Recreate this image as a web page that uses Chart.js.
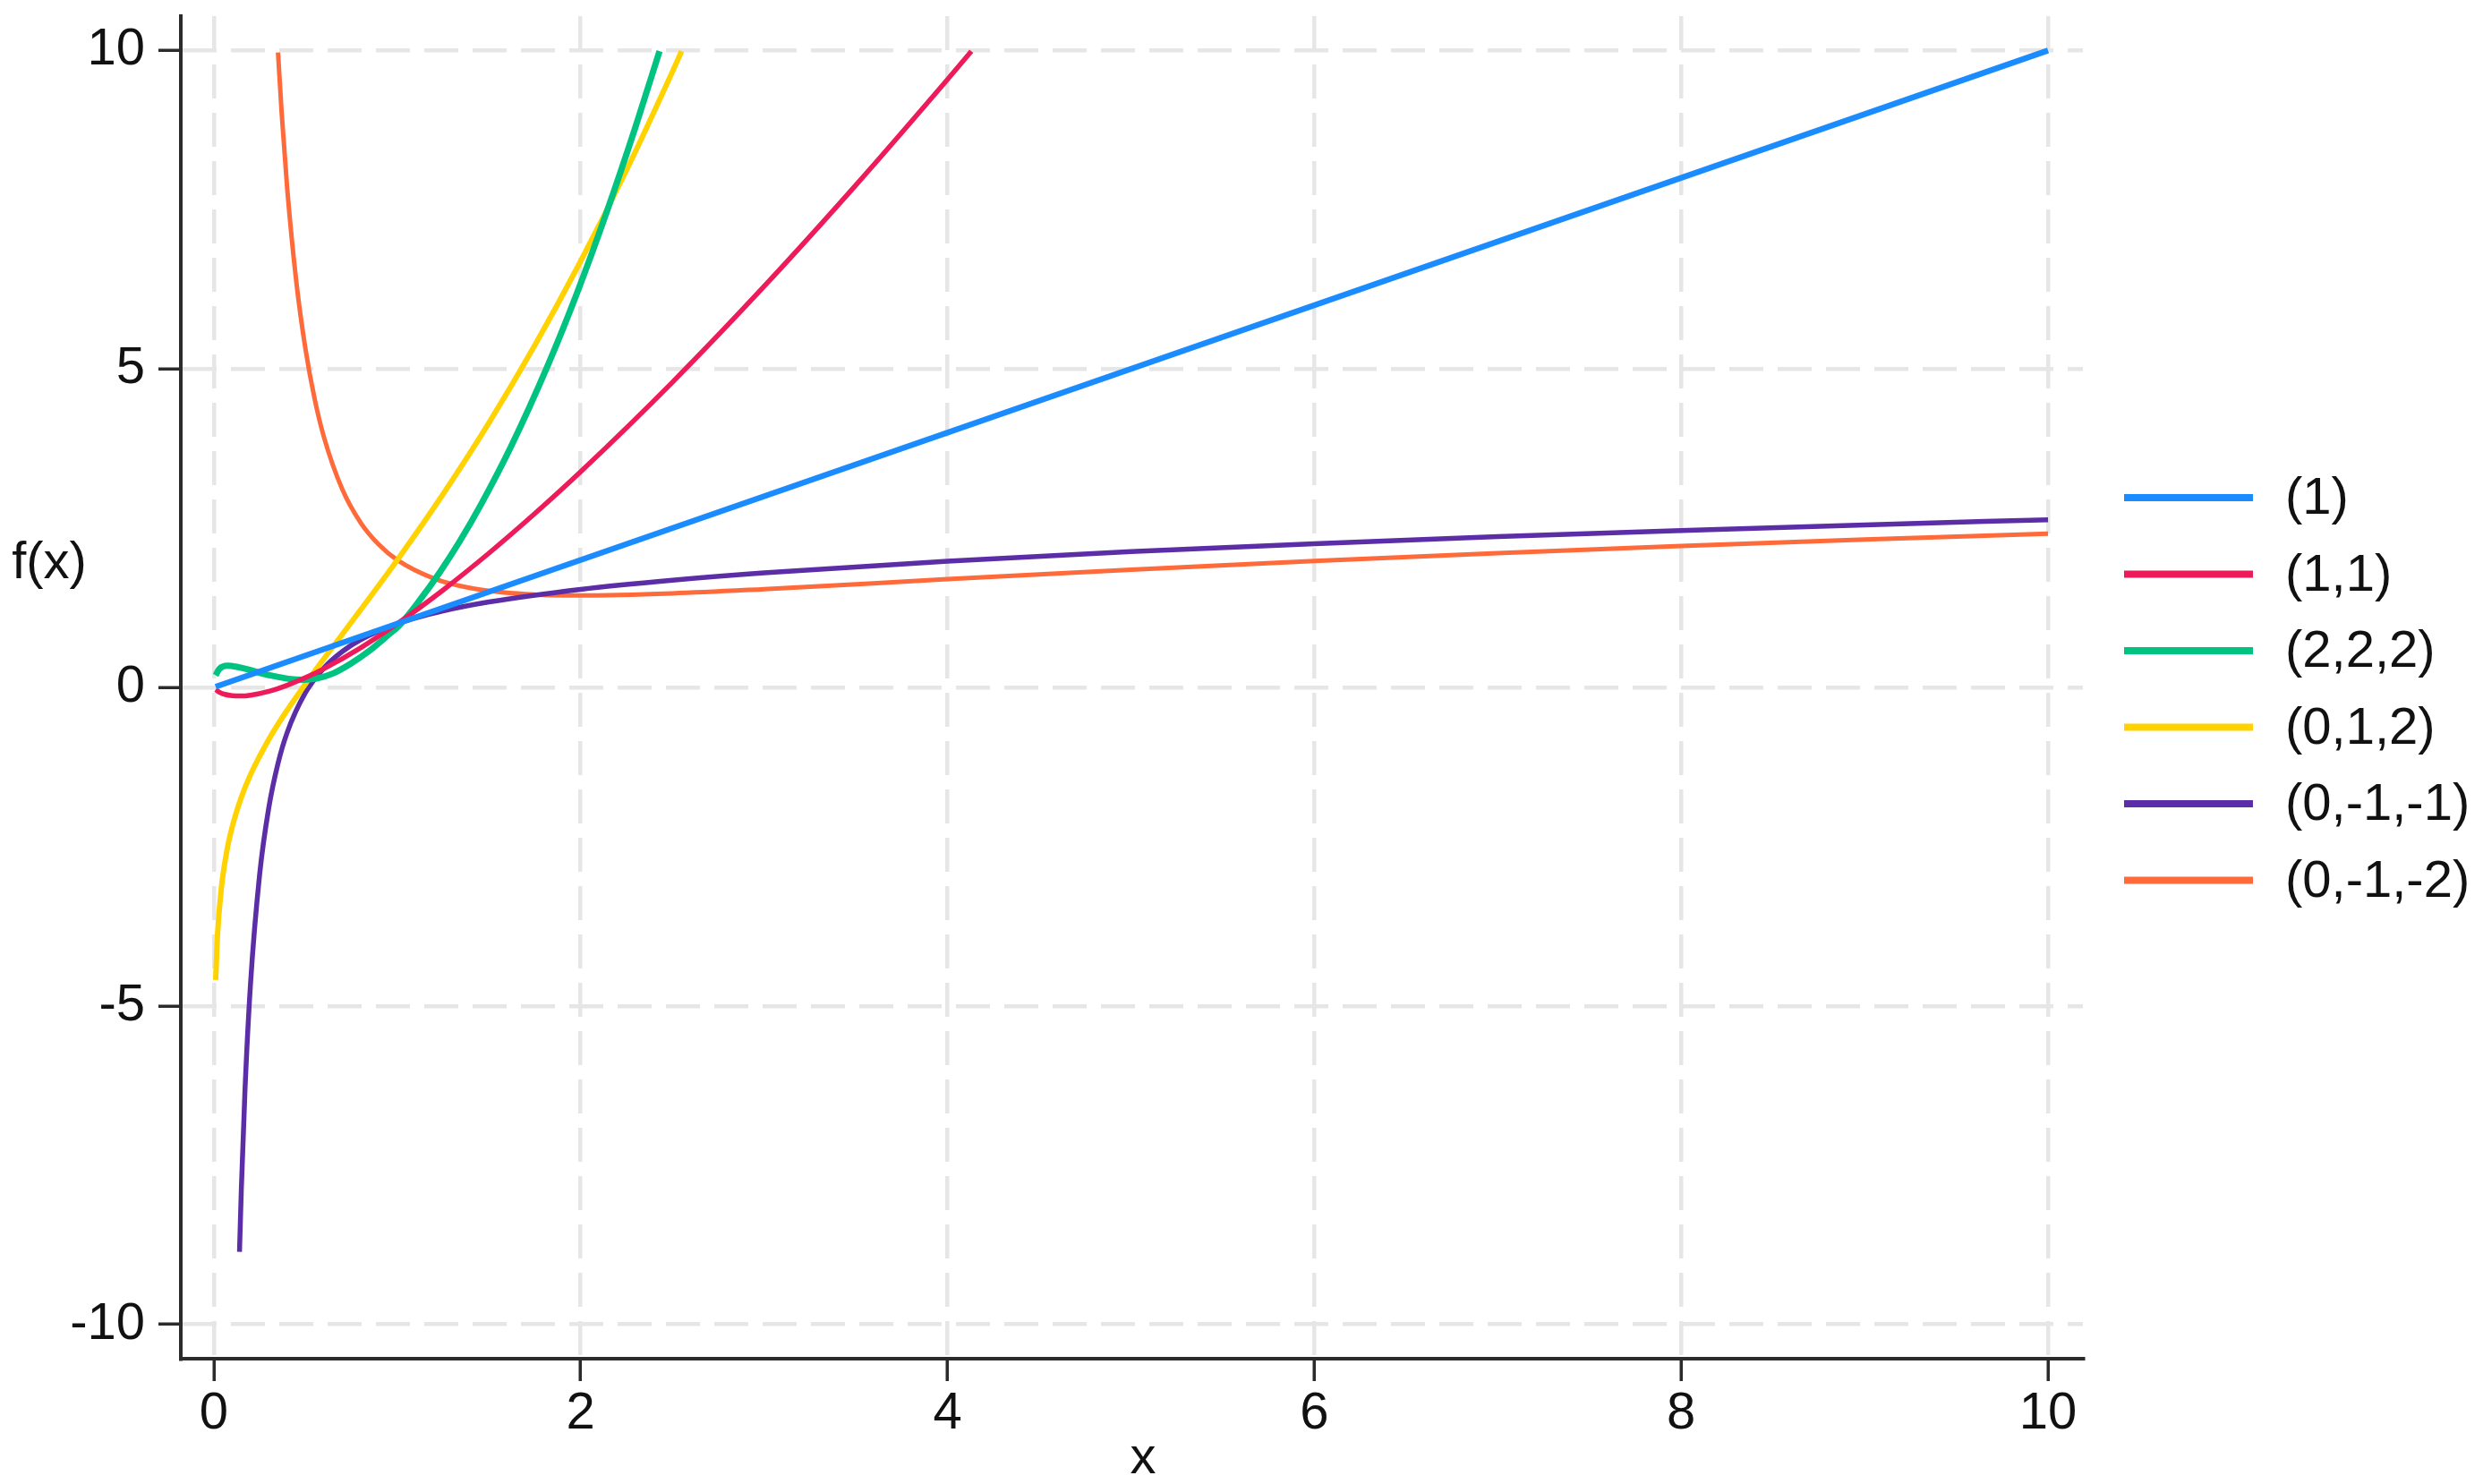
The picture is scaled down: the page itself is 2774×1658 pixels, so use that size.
<!DOCTYPE html>
<html>
<head>
<meta charset="utf-8">
<title>Fractional polynomial curves</title>
<script src="https://cdn.jsdelivr.net/npm/chart.js@4.4.1/dist/chart.umd.min.js"></script>
<style>
    html, body { margin: 0; padding: 0; background: #fff; }
    canvas { display: block; }
</style>
</head>
<body>
<canvas id="chartFP" width="2774" height="1658"></canvas>
<script>
// ---------------------------------------------
// Data
// ---------------------------------------------
const seriesLabels = ['(1)', '(1,1)', '(2,2,2)', '(0,1,2)', '(0,-1,-1)', '(0,-1,-2)'];
const seriesColors = ['#1a8cff', '#ee1b5b', '#00c281', '#ffd200', '#5b2da6', '#ff6a3a'];
const xTicks = [0, 2, 4, 6, 8, 10];
const yTicks = [-10, -5, 0, 5, 10];

// (1)
const xP1 = [0.01, 10];
const yP1 = [0.01, 10];

// (1,1)
const xP11 = [0.01, 0.03, 0.06, 0.1, 0.15, 0.2, 0.3, 0.4, 0.5, 0.6, 0.8, 1.0, 1.25, 1.5, 1.75, 2.0, 2.5, 3.0, 3.5, 4.0, 4.13];
const yP11 = [-0.036, -0.075, -0.109, -0.130, -0.135, -0.122, -0.061, 0.034, 0.153, 0.294, 0.621, 1.0, 1.529, 2.108, 2.729, 3.386, 4.791, 6.296, 7.885, 9.545, 9.988];

// (2,2,2)
const xP222 = [0.01, 0.03, 0.075, 0.13, 0.19, 0.26, 0.34, 0.42, 0.49, 0.56, 0.65, 0.75, 0.85, 0.95, 1.01, 1.12, 1.23, 1.34, 1.46, 1.62, 1.82, 1.98, 2.15, 2.30, 2.43];
const yP222 = [0.19, 0.29, 0.34, 0.32, 0.28, 0.22, 0.17, 0.13, 0.12, 0.14, 0.22, 0.38, 0.58, 0.82, 0.97, 1.36, 1.80, 2.29, 2.89, 3.78, 5.05, 6.19, 7.53, 8.81, 9.99];

// (0,1,2)
const xP012 = [0.01, 0.02, 0.04, 0.07, 0.1, 0.15, 0.2, 0.3, 0.4, 0.5, 0.6, 0.8, 1.0, 1.25, 1.5, 1.75, 2.0, 2.25, 2.5, 2.55];
const yP012 = [-4.595, -3.892, -3.177, -2.584, -2.193, -1.725, -1.369, -0.814, -0.356, 0.057, 0.449, 1.217, 2.0, 3.036, 4.155, 5.372, 6.693, 8.123, 9.666, 9.989];

// (0,-1,-1)
const xPm11 = [0.14, 0.15, 0.17, 0.2, 0.25, 0.3, 0.35, 0.4, 0.5, 0.6, 0.7, 0.8, 1.0, 1.25, 1.5, 2, 2.5, 3, 4, 5, 6, 7, 8, 9, 10];
const yPm11 = [-8.863, -7.878, -6.313, -4.656, -2.931, -1.884, -1.192, -0.707, -0.079, 0.305, 0.562, 0.748, 1.0, 1.201, 1.342, 1.540, 1.683, 1.798, 1.983, 2.131, 2.257, 2.367, 2.464, 2.552, 2.633];

// (0,-1,-2)
const xPm12 = [0.35, 0.37, 0.4, 0.45, 0.5, 0.55, 0.6, 0.7, 0.8, 0.9, 1.0, 1.2, 1.4, 1.7, 2.0, 2.5, 3, 4, 5, 6, 7, 8, 9, 10];
const yPm12 = [9.970, 9.014, 7.834, 6.361, 5.307, 4.526, 3.934, 3.113, 2.589, 2.241, 2.0, 1.710, 1.561, 1.465, 1.443, 1.476, 1.543, 1.699, 1.849, 1.986, 2.109, 2.220, 2.321, 2.413];

const seriesX = [xP1, xP11, xP222, xP012, xPm11, xPm12];
const seriesY = [yP1, yP11, yP222, yP012, yPm11, yPm12];
const seriesWidth = [6.5, 5.5, 7, 6, 5.5, 5];

(function() {
    'use strict';

    const FONT = '"Liberation Sans", Arial, sans-serif';
    const INK = '#111111';
    const AXIS = '#2b2b2b';

    // legend on the right + the two axis titles
    const sideLegend = {
        id: 'sideLegend',
        afterDraw(chart) {
            const c = chart.ctx;
            c.save();
            chart.data.datasets.forEach((ds, i) => {
                const y = 556 + i * 85.5;
                c.strokeStyle = ds.borderColor;
                c.lineWidth = 8;
                c.beginPath();
                c.moveTo(2373, y);
                c.lineTo(2517, y);
                c.stroke();
                c.fillStyle = INK;
                c.font = '58px ' + FONT;
                c.textAlign = 'left';
                c.textBaseline = 'middle';
                c.fillText(ds.label, 2553, y + 2);
            });
            c.font = '58px ' + FONT;
            c.textAlign = 'center';
            c.textBaseline = 'middle';
            c.fillText('f(x)', 55, 630);
            c.fillText('x', 1277, 1630);
            c.restore();
        }
    };

    const datasets = seriesLabels.map((label, i) => ({
        label: label,
        data: seriesX[i].map((x, j) => ({ x: x, y: seriesY[i][j] })),
        borderColor: seriesColors[i],
        backgroundColor: seriesColors[i],
        borderWidth: seriesWidth[i],
        showLine: true,
        pointRadius: 0,
        cubicInterpolationMode: 'monotone'
    }));

    const ctx = document.getElementById('chartFP').getContext('2d');
    new Chart(ctx, {
        type: 'scatter',
        data: { datasets: datasets },
        plugins: [sideLegend],
        options: {
            responsive: false,
            animation: false,
            devicePixelRatio: 1,
            layout: { padding: { left: 0, top: 18, right: 447, bottom: 0 } },
            plugins: {
                legend: { display: false },
                tooltip: { enabled: false }
            },
            scales: {
                x: {
                    type: 'linear',
                    min: -0.18,
                    max: 10.19,
                    afterFit: (s) => {
                        s.height = 140;
                        s.paddingLeft = 0;
                        s.paddingRight = 0;
                    },
                    afterBuildTicks: (s) => { s.ticks = xTicks.map(v => ({ value: v })); },
                    grid: {
                        color: '#e6e6e6',
                        lineWidth: 4.5,
                        tickLength: 25,
                        tickWidth: 3.5,
                        tickColor: AXIS
                    },
                    border: { color: AXIS, width: 4, dash: [38, 16] },
                    ticks: { color: INK, padding: 2, font: { family: FONT, size: 58 } }
                },
                y: {
                    type: 'linear',
                    min: -10.54,
                    max: 10.54,
                    afterFit: (s) => {
                        s.width = 202;
                        s.paddingTop = 0;
                        s.paddingBottom = 0;
                    },
                    afterBuildTicks: (s) => { s.ticks = yTicks.map(v => ({ value: v })); },
                    grid: {
                        color: '#e6e6e6',
                        lineWidth: 4.5,
                        tickLength: 25,
                        tickWidth: 3.5,
                        tickColor: AXIS
                    },
                    border: { color: AXIS, width: 4, dash: [38, 16] },
                    ticks: { color: INK, padding: 15, font: { family: FONT, size: 58 } }
                }
            }
        }
    });
})();
</script>
</body>
</html>
